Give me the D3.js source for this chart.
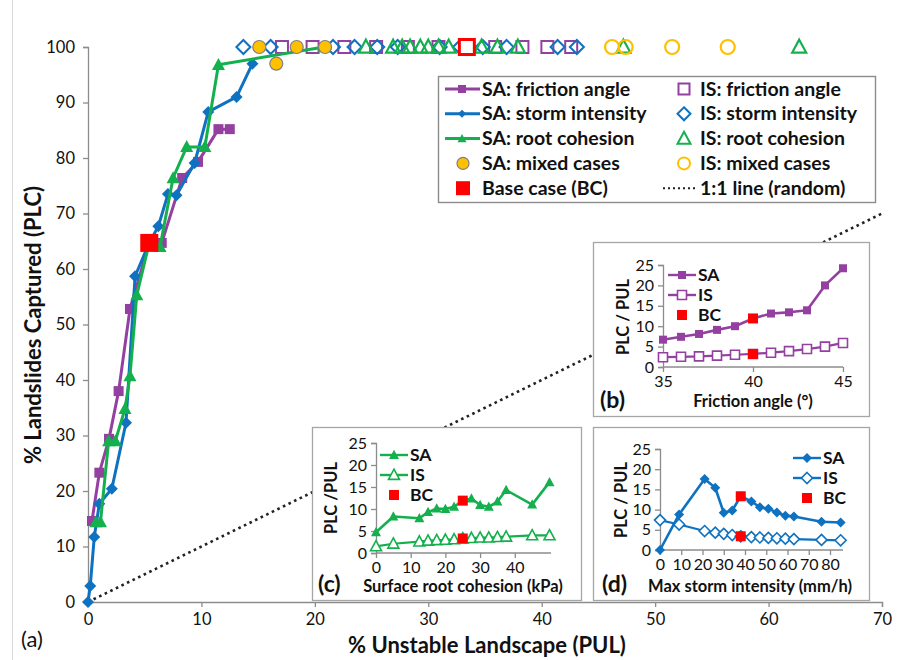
<!DOCTYPE html>
<html>
<head>
<meta charset="utf-8">
<script src="https://cdn.jsdelivr.net/npm/d3@7"></script>
<style>
  body { margin: 0; background: #fff; }
  svg text { font-family: Lato, "Open Sans", "Liberation Sans", sans-serif; fill: #111; }
</style>
</head>
<body>
<svg id="chart" width="911" height="660"></svg>
<script>
// ---------- Main panel (a): % landslides captured vs % unstable landscape ----------
const mainTicksX = [0, 10, 20, 30, 40, 50, 60, 70];
const mainTicksY = [0, 10, 20, 30, 40, 50, 60, 70, 80, 90, 100];

// Sensitivity analysis (SA) runs: [PUL, PLC]
const saFriction = [[0.35, 14.6], [1.0, 23.3], [1.85, 29.4], [2.7, 38.0], [3.7, 52.8], [5.4, 64.7],
                    [6.5, 64.7], [8.3, 76.4], [9.7, 79.3], [11.5, 85.2], [12.5, 85.2]];
const saStorm = [[0, 0], [0.2, 2.9], [0.55, 11.7], [1.0, 17.7], [2.1, 20.4], [3.35, 32.3], [4.15, 58.7],
                 [5.4, 64.7], [6.2, 67.7], [7.05, 73.5], [7.8, 73.3], [9.4, 79.1], [10.6, 88.3], [13.1, 91.0], [14.5, 97.0]];
const saRoot = [[0.7, 14.4], [1.1, 14.4], [1.82, 29.0], [2.41, 29.0], [3.26, 34.8], [3.7, 40.7], [4.3, 55.3],
                [5.4, 64.7], [6.35, 64.0], [7.5, 76.4], [8.7, 82.0], [10.3, 82.0], [11.5, 96.8], [20.8, 100]];
const saMixed = [[15.1, 100], [18.4, 100], [20.9, 100], [16.6, 97.0]];
const baseCaseSA = [5.4, 64.7];

// Infinite slope (IS) runs all capture 100 % of landslides: PUL values
const isFrictionPUL = [17.1, 19.8, 22.6, 25.4, 28.2, 30.9, 35.9, 38.3, 40.5, 42.6];
const isStormPUL = [13.7, 16.1, 21.6, 23.5, 25.5, 27.3, 31.0, 32.8, 34.8, 36.9, 41.4, 43.1];
const isRootPUL = [24.5, 26.9, 27.7, 28.4, 29.3, 30.0, 30.9, 31.8, 34.7, 36.1, 37.9, 47.2, 62.7];
const isMixedPUL = [46.2, 47.4, 51.5, 56.4];
const baseCaseIS = [33.4, 100];
const randomLine = [[0, 0], [70, 70]];

// ---------- Inset (b): friction angle ----------
const frictionAngle = [35, 36, 37, 38, 39, 40, 41, 42, 43, 44, 45];
const frictionSA = [6.7, 7.4, 8.1, 9.1, 10.0, 11.9, 13.1, 13.4, 13.9, 20.0, 24.2];
const frictionIS = [2.4, 2.5, 2.6, 2.8, 3.0, 3.2, 3.5, 3.9, 4.4, 5.0, 5.9];
const frictionTicks = [35, 40, 45];

// ---------- Inset (c): surface root cohesion ----------
const cohesion = [0, 5, 12.5, 15, 17.5, 20, 22.5, 25, 27.5, 30, 32.5, 35, 37.5, 45, 50];
const cohesionSA = [4.7, 8.3, 7.9, 9.3, 10.1, 10.0, 10.5, 11.9, 12.4, 10.9, 10.5, 11.7, 14.3, 11.0, 16.1];
const cohesionIS = [1.5, 2.1, 2.6, 2.8, 2.9, 3.0, 3.1, 3.3, 3.4, 3.5, 3.5, 3.6, 3.7, 4.0, 4.0];
const cohesionTicks = [0, 10, 20, 30, 40];

// ---------- Inset (d): maximum storm intensity ----------
const stormIntensity = [0, 9, 21, 26, 30, 34, 38, 43, 47, 51, 55, 59, 63, 76, 85];
const stormSA = [0, 8.8, 17.6, 15.4, 9.2, 9.8, 13.3, 12.0, 10.6, 10.2, 9.3, 8.5, 8.3, 7.0, 6.8];
const stormIS = [7.4, 6.3, 4.7, 4.3, 4.0, 3.7, 3.4, 3.2, 3.1, 3.0, 2.9, 2.8, 2.7, 2.5, 2.4];
const stormTicks = [0, 10, 20, 30, 40, 50, 60, 70, 80];

const ratioTicks = [0, 5, 10, 15, 20, 25];

// ---------- Styling ----------
const PURPLE = "#9440A0", BLUE = "#0E72C0", GREEN = "#14B04E", GOLD = "#FFC000", RED = "#FF0000";
const AXIS = "#8c8c8c";

const svg = d3.select("#chart");

function markerPath(type, s) {
  const h = s / 2;
  if (type === "square") return `M${-h},${-h}H${h}V${h}H${-h}Z`;
  if (type === "diamond") return `M0,${-h}L${h},0L0,${h}L${-h},0Z`;
  if (type === "triangle") return `M0,${-h * 1.05}L${h},${h * 0.8}L${-h},${h * 0.8}Z`;
  return d3.symbol(d3.symbolCircle, Math.PI * h * h)();
}

function drawMarkers(g, pts, x, y, type, size, fill, stroke, sw) {
  g.selectAll(null).data(pts).join("path")
    .attr("d", markerPath(type, size))
    .attr("transform", d => `translate(${x(d[0])},${y(d[1])})`)
    .attr("fill", fill)
    .attr("stroke", stroke || "none")
    .attr("stroke-width", sw || 0);
}

function drawLine(g, pts, x, y, color, w) {
  g.append("path").datum(pts)
    .attr("d", d3.line().x(d => x(d[0])).y(d => y(d[1])))
    .attr("fill", "none").attr("stroke", color).attr("stroke-width", w)
    .attr("stroke-linejoin", "round");
}

function styleAxis(sel, fs) {
  sel.select(".domain").attr("stroke", AXIS).attr("stroke-width", 1.3);
  sel.selectAll(".tick line").attr("stroke", AXIS).attr("stroke-width", 1.3);
  sel.selectAll(".tick text").attr("font-size", fs).attr("fill", "#111");
}

// ---------- Panel (a) ----------
const x = d3.scaleLinear().domain([0, 70]).range([88, 882]);
const y = d3.scaleLinear().domain([0, 100]).range([602, 47]);

// chart-area edge on the left
svg.append("line").attr("x1", 12.5).attr("x2", 12.5).attr("y1", 0).attr("y2", 660)
  .attr("stroke", "#d9d9d9").attr("stroke-width", 1);

// 1:1 line (random) - drawn first so the insets sit on top
svg.append("path").datum(randomLine)
  .attr("d", d3.line().x(d => x(d[0])).y(d => y(d[1])))
  .attr("stroke", "#222").attr("stroke-width", 2.6).attr("stroke-dasharray", "2.6 3.6").attr("fill", "none");

const gx = svg.append("g").attr("transform", `translate(0,${y(0)})`)
  .call(d3.axisBottom(x).tickValues(mainTicksX).tickSize(5).tickPadding(6));
styleAxis(gx, 16.5);
const gy = svg.append("g").attr("transform", `translate(${x(0)},0)`)
  .call(d3.axisLeft(y).tickValues(mainTicksY).tickSize(5).tickPadding(8));
styleAxis(gy, 16.5);

svg.append("text").attr("x", 487).attr("y", 653).attr("text-anchor", "middle")
  .attr("font-size", 22).attr("font-weight", "bold").text("% Unstable Landscape (PUL)");
svg.append("text").attr("transform", `translate(41,325) rotate(-90)`).attr("text-anchor", "middle")
  .attr("font-size", 22).attr("font-weight", "bold").text("% Landslides Captured (PLC)");
svg.append("text").attr("x", 21).attr("y", 647).attr("font-size", 22).text("(a)");

// ---------- Insets ----------
function inset(o) {
  const g = svg.append("g");
  g.append("rect").attr("x", o.box[0] + 0.5).attr("y", o.box[1] + 0.5)
    .attr("width", o.box[2]).attr("height", o.box[3])
    .attr("fill", "#fff").attr("stroke", "#a6a6a6").attr("stroke-width", 1.3);
  const sx = d3.scaleLinear().domain(o.xd).range(o.xr);
  const sy = d3.scaleLinear().domain([0, 25]).range(o.yr);
  const ax = g.append("g").attr("transform", `translate(0,${o.yr[0]})`)
    .call(d3.axisBottom(sx).tickValues(o.xt).tickSize(5).tickPadding(4));
  ax.select(".domain").attr("d", `M${o.xr[0]},0H${o.xEnd}`);
  styleAxis(ax, 16);
  const ay = g.append("g").attr("transform", `translate(${o.xr[0]},0)`)
    .call(d3.axisLeft(sy).tickValues(ratioTicks).tickSize(5).tickPadding(4));
  styleAxis(ay, 16);

  const sa = o.xs.map((v, i) => [v, o.sa[i]]);
  const is = o.xs.map((v, i) => [v, o.is[i]]);
  drawLine(g, is, sx, sy, o.color, 2.2);
  drawMarkers(g, is, sx, sy, o.marker, o.ms + 1, "#fff", o.color, 1.6);
  drawLine(g, sa, sx, sy, o.color, 2.6);
  drawMarkers(g, sa, sx, sy, o.marker, o.ms, o.color);
  drawMarkers(g, [sa[o.baseIdx], is[o.baseIdx]], sx, sy, "square", 10, RED);

  g.append("text").attr("transform", `translate(${o.ytitle[0]},${o.ytitle[1]}) rotate(-90)`)
    .attr("text-anchor", "middle").attr("font-size", 16.5).attr("font-weight", "bold").text(o.ylabel);
  g.append("text").attr("x", o.xtitle[0]).attr("y", o.xtitle[1]).attr("text-anchor", "middle")
    .attr("font-size", 16.5).attr("font-weight", "bold").text(o.xlabel);
  g.append("text").attr("x", o.tag[0]).attr("y", o.tag[1])
    .attr("font-size", 23).attr("font-weight", "bold").text(o.tagText);

  // inset legend
  const [lx, ly] = o.legend;
  [["SA", "fill"], ["IS", "open"], ["BC", "bc"]].forEach((row, i) => {
    const cy = ly + i * 20;
    if (row[1] !== "bc") {
      g.append("line").attr("x1", lx).attr("x2", lx + 28).attr("y1", cy).attr("y2", cy)
        .attr("stroke", o.color).attr("stroke-width", 2.4);
      g.append("path").attr("d", markerPath(o.marker, o.ms + (row[1] === "open" ? 1 : 0)))
        .attr("transform", `translate(${lx + 14},${cy})`)
        .attr("fill", row[1] === "open" ? "#fff" : o.color)
        .attr("stroke", row[1] === "open" ? o.color : "none").attr("stroke-width", 1.6);
    } else {
      g.append("path").attr("d", markerPath("square", 10)).attr("transform", `translate(${lx + 14},${cy})`)
        .attr("fill", RED);
    }
    g.append("text").attr("x", lx + 30).attr("y", cy + 6).attr("font-size", 17.5)
      .attr("font-weight", "bold").text(row[0]);
  });
}

inset({
  box: [593, 242, 276, 174], xd: [35, 45], xr: [663, 843], xEnd: 843, yr: [367, 265], xt: frictionTicks,
  xs: frictionAngle, sa: frictionSA, is: frictionIS, baseIdx: 5, color: PURPLE, marker: "square", ms: 8,
  ylabel: "PLC / PUL", ytitle: [629, 317], xlabel: "Friction angle (°)", xtitle: [753, 407],
  tag: [600, 408], tagText: "(b)", legend: [668, 275]
});
inset({
  box: [312, 427, 269, 173], xd: [0, 50], xr: [376, 549.5], xEnd: 551, yr: [553, 443], xt: cohesionTicks,
  xs: cohesion, sa: cohesionSA, is: cohesionIS, baseIdx: 7, color: GREEN, marker: "triangle", ms: 10,
  ylabel: "PLC /PUL", ytitle: [337, 498], xlabel: "Surface root cohesion (kPa)", xtitle: [463, 592],
  tag: [318, 592], tagText: "(c)", legend: [380, 455]
});
inset({
  box: [593, 427, 276, 173], xd: [0, 80], xr: [660, 830], xEnd: 843, yr: [550, 449], xt: stormTicks,
  xs: stormIntensity, sa: stormSA, is: stormIS, baseIdx: 6, color: BLUE, marker: "diamond", ms: 10,
  ylabel: "PLC / PUL", ytitle: [627, 500], xlabel: "Max storm intensity (mm/h)", xtitle: [750, 592],
  tag: [602, 592], tagText: "(d)", legend: [793, 458]
});

// ---------- Panel (a) data ----------
const gm = svg.append("g");
drawMarkers(gm, isFrictionPUL.map(v => [v, 100]), x, y, "square", 12, "none", PURPLE, 2);
drawMarkers(gm, isStormPUL.map(v => [v, 100]), x, y, "diamond", 14, "none", BLUE, 2);
drawMarkers(gm, isRootPUL.map(v => [v, 100]), x, y, "triangle", 14, "none", GREEN, 2.2);
drawMarkers(gm, isMixedPUL.map(v => [v, 100]), x, y, "circle", 14, "none", GOLD, 2.2);

drawLine(gm, saFriction, x, y, PURPLE, 3);
drawMarkers(gm, saFriction, x, y, "square", 10, PURPLE);
drawLine(gm, saStorm, x, y, BLUE, 3);
drawMarkers(gm, saStorm, x, y, "diamond", 12, BLUE);
drawLine(gm, saRoot, x, y, GREEN, 3);
drawMarkers(gm, saRoot, x, y, "triangle", 13, GREEN);
drawMarkers(gm, saMixed, x, y, "circle", 13, GOLD, "#808080", 1.2);

drawMarkers(gm, [baseCaseSA], x, y, "square", 18, RED);
drawMarkers(gm, [baseCaseIS], x, y, "square", 15, "#fff", RED, 3);

// ---------- Legend ----------
const lg = svg.append("g");
lg.append("rect").attr("x", 438.5).attr("y", 76.5).attr("width", 437).attr("height", 126)
  .attr("fill", "#fff").attr("stroke", "#8c8c8c").attr("stroke-width", 1.4);
const legendRows = [
  ["SA: friction angle", "line", "square", PURPLE, "IS: friction angle", "square", PURPLE],
  ["SA: storm intensity", "line", "diamond", BLUE, "IS: storm intensity", "diamond", BLUE],
  ["SA: root cohesion", "line", "triangle", GREEN, "IS: root cohesion", "triangle", GREEN],
  ["SA: mixed cases", "dot", "circle", GOLD, "IS: mixed cases", "circle", GOLD],
  ["Base case (BC)", "dot", "square", RED, "1:1 line (random)", "dotted", "#222"]
];
legendRows.forEach((r, i) => {
  const cy = 89 + i * 24.8;
  if (r[1] === "line") {
    lg.append("line").attr("x1", 445).attr("x2", 480).attr("y1", cy).attr("y2", cy)
      .attr("stroke", r[3]).attr("stroke-width", 3);
    lg.append("path").attr("d", markerPath(r[2], r[2] === "triangle" ? 9 : 8))
      .attr("transform", `translate(462,${cy})`).attr("fill", r[3]);
  } else {
    lg.append("path").attr("d", markerPath(r[2], r[2] === "circle" ? 12 : 14))
      .attr("transform", `translate(463,${cy})`).attr("fill", r[3])
      .attr("stroke", r[2] === "circle" ? "#808080" : "none").attr("stroke-width", 1.2);
  }
  lg.append("text").attr("x", 482).attr("y", cy + 6.5).attr("font-size", 19.5).attr("font-weight", "bold").text(r[0]);
  if (r[5] === "dotted") {
    lg.append("line").attr("x1", 663).attr("x2", 696).attr("y1", cy).attr("y2", cy)
      .attr("stroke", r[6]).attr("stroke-width", 2).attr("stroke-dasharray", "2 3");
  } else {
    lg.append("path").attr("d", markerPath(r[5], r[5] === "circle" ? 12 : (r[5] === "square" ? 11 : 13)))
      .attr("transform", `translate(684,${cy})`).attr("fill", "none")
      .attr("stroke", r[6]).attr("stroke-width", 2);
  }
  lg.append("text").attr("x", 700).attr("y", cy + 6.5).attr("font-size", 19.5).attr("font-weight", "bold").text(r[4]);
});
</script>
</body>
</html>
